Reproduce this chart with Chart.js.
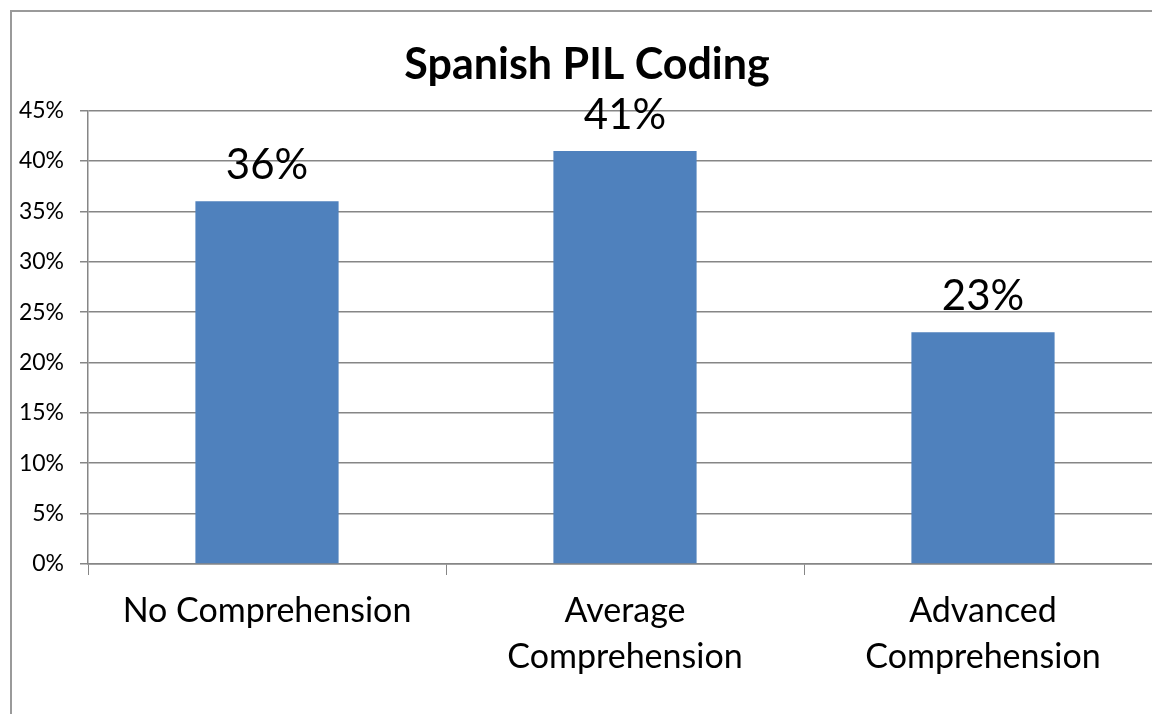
<!DOCTYPE html>
<html>
<head>
<meta charset="utf-8">
<script src="https://cdn.jsdelivr.net/npm/chart.js@4"></script>
<style>
  html, body { margin: 0; padding: 0; background: #fff; overflow: hidden; width: 1152px; height: 714px; }
  #frame { position: absolute; left: 10px; top: 10px; width: 1150px; height: 720px; border-left: 2px solid #9a9a9a; border-top: 2px solid #9a9a9a; background: #fff; }
  #wrap { position: absolute; left: 0; top: 0; width: 1150px; height: 702px; }
</style>
</head>
<body>
<div id="frame"><div id="wrap"><canvas id="c"></canvas></div></div>
<script>
const titleText = 'Spanish PIL Coding';
const categories = [['No Comprehension'], ['Average', 'Comprehension'], ['Advanced', 'Comprehension']];
const values = [36, 41, 23];
const yTicks = [0, 5, 10, 15, 20, 25, 30, 35, 40, 45];

const FONT = 'Lato, "Open Sans", "DejaVu Sans", sans-serif';
const GRID = '#868686';

const dataLabels = {
  id: 'dataLabels',
  afterDatasetsDraw(chart) {
    const ctx = chart.ctx;
    const meta = chart.getDatasetMeta(0);
    ctx.save();
    ctx.font = '42px ' + FONT;
    ctx.fillStyle = '#000';
    ctx.textAlign = 'center';
    ctx.textBaseline = 'alphabetic';
    meta.data.forEach((bar, i) => {
      ctx.fillText(values[i] + '%', bar.x, bar.y - 22);
    });
    ctx.restore();
  }
};

new Chart(document.getElementById('c'), {
  type: 'bar',
  data: {
    labels: categories,
    datasets: [{
      data: values,
      backgroundColor: '#4f81bd',
      borderWidth: 0,
      categoryPercentage: 1.0,
      barPercentage: 0.4
    }]
  },
  options: {
    responsive: true,
    maintainAspectRatio: false,
    animation: false,
    layout: { padding: 0 },
    plugins: {
      legend: { display: false },
      tooltip: { enabled: false },
      title: {
        display: true,
        text: titleText,
        color: '#000',
        font: { family: FONT, size: 43, weight: 'bold', lineHeight: 1.2 },
        padding: { top: 27, bottom: 20 }
      }
    },
    scales: {
      x: {
        afterFit(scale) { scale.height = 150; },
        grid: { display: true, drawOnChartArea: false, drawTicks: true, tickLength: 11, color: GRID, offset: true },
        border: { display: true, color: GRID, width: 1.5 },
        ticks: { color: '#000', font: { family: FONT, size: 34, lineHeight: 1.35 }, padding: 13, maxRotation: 0, autoSkip: false }
      },
      y: {
        min: 0, max: 45,
        afterFit(scale) { scale.width = 76; },
        afterBuildTicks(scale) { scale.ticks = yTicks.map(v => ({ value: v })); },
        grid: { color: GRID, lineWidth: 1.5, tickLength: 8 },
        border: { display: true, color: GRID, width: 1.5 },
        ticks: { color: '#000', font: { family: FONT, size: 23 }, padding: 16, callback: v => v + '%' }
      }
    }
  },
  plugins: [dataLabels]
});
</script>
</body>
</html>
